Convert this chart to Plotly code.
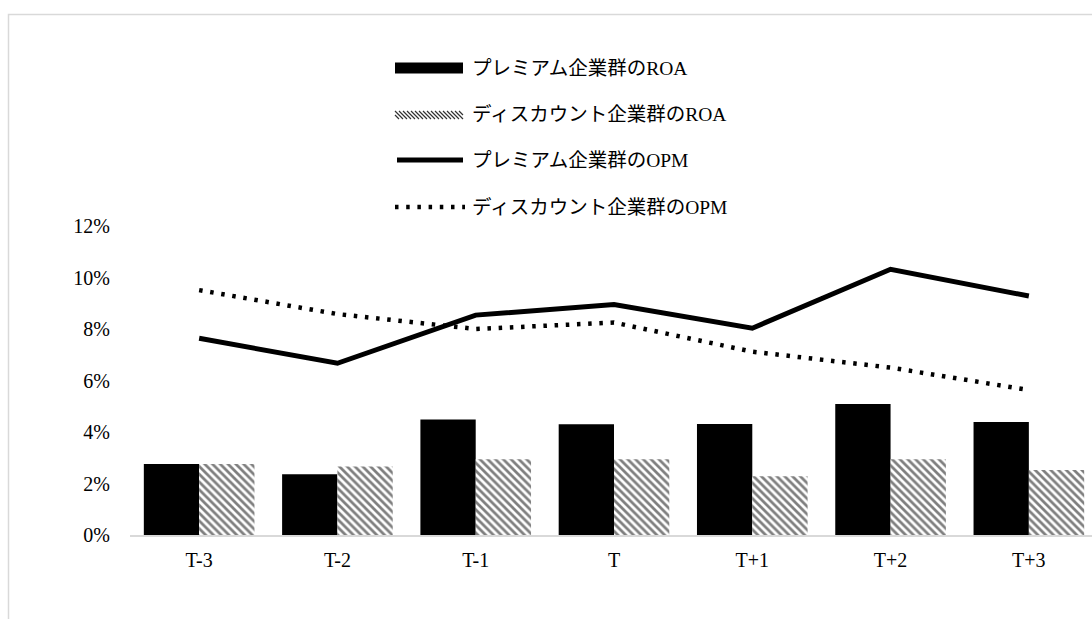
import plotly.graph_objects as go

# ---- data -------------------------------------------------------------
periods = ["T-3", "T-2", "T-1", "T", "T+1", "T+2", "T+3"]
roa_premium = [0.0276, 0.0236, 0.0449, 0.0430, 0.0431, 0.0509, 0.0439]
roa_discount = [0.0276, 0.0266, 0.0294, 0.0294, 0.0228, 0.0294, 0.0252]
opm_premium = [0.0764, 0.0667, 0.0854, 0.0895, 0.0803, 0.1032, 0.0928]
opm_discount = [0.0951, 0.0858, 0.0800, 0.0825, 0.0712, 0.0650, 0.0563]

names = [
    "プレミアム企業群のROA",
    "ディスカウント企業群のROA",
    "プレミアム企業群のOPM",
    "ディスカウント企業群のOPM",
]
y_ticks = [0, 0.02, 0.04, 0.06, 0.08, 0.10, 0.12]

# ---- page geometry (pixels) ------------------------------------------
W, H = 1092, 619
L, R, T, B = 130, 1092, 226, 535          # plot area edges
pw, ph = R - L, B - T


def px(x):
    return (x - L) / pw


def py(y):
    return (B - y) / ph


FONT = "Liberation Serif, 'Times New Roman', 'Noto Sans CJK JP', serif"
DOTS = "3.5px,7.7px"

fig = go.Figure()

fig.add_trace(go.Bar(
    x=periods, y=roa_premium, name=names[0],
    marker=dict(color="black", line=dict(width=0)),
    showlegend=False,
))
fig.add_trace(go.Bar(
    x=periods, y=roa_discount, name=names[1],
    marker=dict(color="white", line=dict(width=0),
                pattern=dict(shape="\\", fgcolor="black", bgcolor="white",
                             size=5.5, solidity=0.5)),
    showlegend=False,
))
fig.add_trace(go.Scatter(
    x=periods, y=opm_premium, name=names[2], mode="lines",
    line=dict(color="black", width=5),
    showlegend=False,
))
fig.add_trace(go.Scatter(
    x=periods, y=opm_discount, name=names[3], mode="lines",
    line=dict(color="black", width=4.5, dash=DOTS),
    showlegend=False,
))

shapes = []
annotations = []

# outer chart frame
shapes.append(dict(type="rect", xref="paper", yref="paper",
                   x0=px(8.5), x1=px(1120), y0=py(14.5), y1=py(660),
                   line=dict(color="#d9d9d9", width=1.5), layer="below"))

# hand-built legend
sym_x0, sym_x1 = 395, 463
rows = [68, 115, 160, 207]

# solid bar swatch
shapes.append(dict(type="rect", xref="paper", yref="paper",
                   x0=px(sym_x0), x1=px(sym_x1),
                   y0=py(rows[0] - 5.5), y1=py(rows[0] + 5.5),
                   fillcolor="black", line=dict(width=0)))

# hatched swatch, built from short diagonal strokes clipped to the box
hy0, hy1 = rows[1] - 4, rows[1] + 4
hh = hy1 - hy0
segs = []
x = sym_x0 - hh
while x < sym_x1:
    xa, ya = x, hy0
    xb, yb = x + hh, hy1
    if xa < sym_x0:
        ya += sym_x0 - xa
        xa = sym_x0
    if xb > sym_x1:
        yb -= xb - sym_x1
        xb = sym_x1
    if xb > xa:
        segs.append(f"M{px(xa):.5f},{py(ya):.5f}L{px(xb):.5f},{py(yb):.5f}")
    x += 4
shapes.append(dict(type="path", xref="paper", yref="paper",
                   path="".join(segs),
                   line=dict(color="#333", width=1.2)))

# line swatches
shapes.append(dict(type="line", xref="paper", yref="paper",
                   x0=px(sym_x0 + 2), x1=px(sym_x1), y0=py(rows[2]), y1=py(rows[2]),
                   line=dict(color="black", width=5)))
shapes.append(dict(type="line", xref="paper", yref="paper",
                   x0=px(sym_x0), x1=px(sym_x1 + 2), y0=py(rows[3]), y1=py(rows[3]),
                   line=dict(color="black", width=4.5, dash=DOTS)))

for name, ry in zip(names, rows):
    annotations.append(dict(
        text=name, xref="paper", yref="paper",
        x=px(470), y=py(ry), xanchor="left", yanchor="middle",
        showarrow=False, font=dict(family=FONT, size=19.5, color="black"),
    ))

fig.update_layout(
    width=W, height=H,
    margin=dict(l=L, r=W - R, t=T, b=H - B, pad=0),
    paper_bgcolor="white", plot_bgcolor="white",
    barmode="group", bargap=0.2, bargroupgap=0,
    showlegend=False,
    font=dict(family=FONT, size=20, color="black"),
    shapes=shapes, annotations=annotations,
    xaxis=dict(
        type="category", range=[-0.5, 6.5 - 6 / 138.3],
        showline=True, linecolor="#d9d9d9", linewidth=1.5,
        showgrid=False, zeroline=False, ticks="",
        tickfont=dict(family=FONT, size=20, color="black"),
        ticklabelstandoff=6,
    ),
    yaxis=dict(
        range=[0, 0.12], tickvals=y_ticks, tickformat=".0%",
        showgrid=False, zeroline=False, showline=False, ticks="",
        tickfont=dict(family=FONT, size=20, color="black"),
        ticklabelstandoff=19,
    ),
)

fig.write_html("out.html")
